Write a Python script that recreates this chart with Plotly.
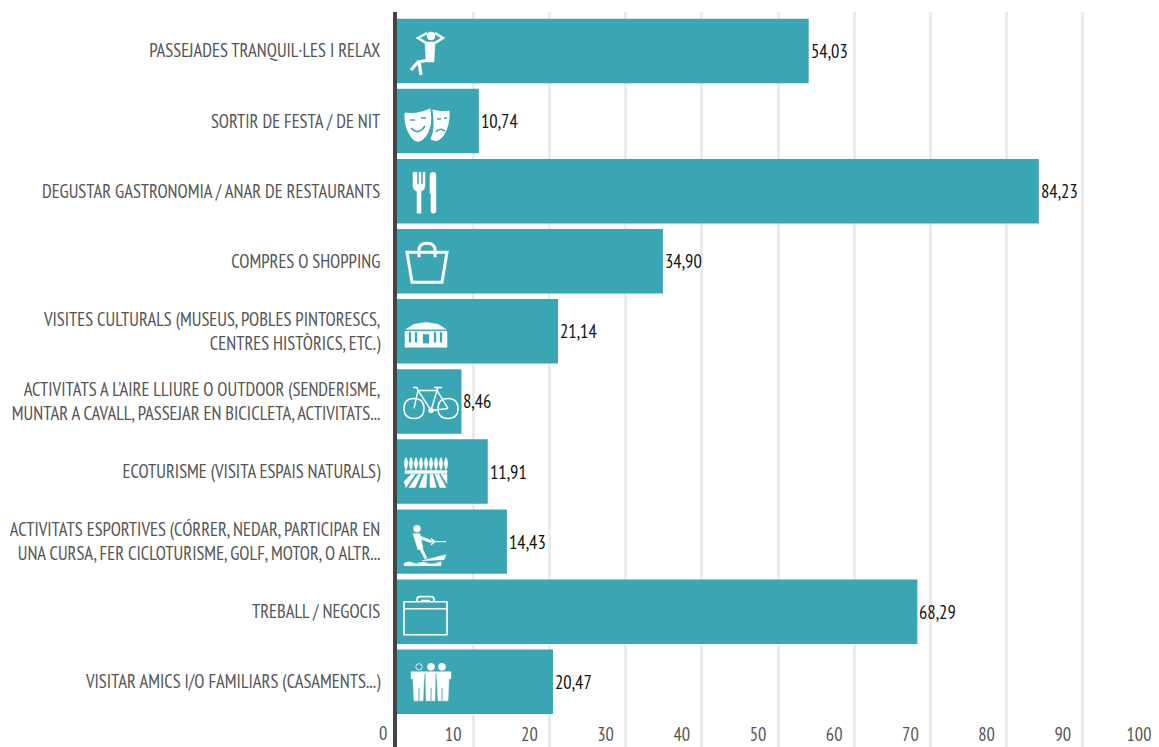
import re
import plotly.graph_objects as go

categories = [
    "PASSEJADES TRANQUIL·LES I RELAX",
    "SORTIR DE FESTA / DE NIT",
    "DEGUSTAR GASTRONOMIA / ANAR DE RESTAURANTS",
    "COMPRES O SHOPPING",
    "VISITES CULTURALS (MUSEUS, POBLES PINTORESCS,<br>CENTRES HISTÒRICS, ETC.)",
    "ACTIVITATS A L'AIRE LLIURE O OUTDOOR (SENDERISME,<br>MUNTAR A CAVALL, PASSEJAR EN BICICLETA, ACTIVITATS...",
    "ECOTURISME (VISITA ESPAIS NATURALS)",
    "ACTIVITATS ESPORTIVES (CÓRRER, NEDAR, PARTICIPAR EN<br>UNA CURSA, FER CICLOTURISME, GOLF, MOTOR, O ALTR...",
    "TREBALL / NEGOCIS",
    "VISITAR AMICS I/O FAMILIARS (CASAMENTS...)",
]
values = [54.03, 10.74, 84.23, 34.90, 21.14, 8.46, 11.91, 14.43, 68.29, 20.47]
x_ticks = [0, 10, 20, 30, 40, 50, 60, 70, 80, 90, 100]

BAR = "#3aa6b4"
FONT = "Liberation Sans Narrow, PT Sans Narrow, Roboto Condensed, sans-serif"
FS = 18.5

fig = go.Figure(go.Bar(
    y=categories, x=values, orientation="h", marker=dict(color=BAR, line=dict(width=0)),
    textposition="none",
))


def circle(cx, cy, r):
    return (f"M {cx-r} {cy} Q {cx-r} {cy-r} {cx} {cy-r} Q {cx+r} {cy-r} {cx+r} {cy} "
            f"Q {cx+r} {cy+r} {cx} {cy+r} Q {cx-r} {cy+r} {cx-r} {cy} Z")


def to_plotly(path, cx):
    """SVG-style path (y down, px from icon centre) to plotly pixel path (y up), shifted by cx."""
    out, i = [], 0
    for t in re.findall(r"[MLZQ]|-?\d+\.?\d*", path):
        if t in "MLZQ":
            out.append(t)
            i = 0
        else:
            out.append(str(float(t) + cx) if i % 2 == 0 else str(-float(t)))
            i += 1
    return " ".join(out)


TREES = " ".join(
    f"M {x-1.8} -8 Q {x} -20 {x+1.8} -8 Q {x} 4 {x-1.8} -8 Z" for x in range(-20, 21, 5)
)

# per-category icon: x centre in px from the axis, list of (path, filled, stroke[, colour])
icons = {
    0: (29, [
        (circle(5, -15, 4), True, 0.5),
        ("M 1 -18 L -8 -13 L 0 -8 M 9 -18 L 17 -13 L 9 -8", False, 2.5),
        ("M -1 -9 L 9 -9 L 8 11 L 0 11 Z", True, 0.5),
        ("M 4 9 L -8 11 L -15 19 M -7 11 L -5 24", False, 3.2),
    ]),
    1: (30, [
        ("M -22 -8 Q -10 -6 3 -12 Q 6 6 -2 16 Q -9 24 -15 17 Q -23 6 -22 -8 Z", True, 1),
        ("M 6 -11 Q 15 -8 22 -10 Q 23 4 16 15 Q 10 22 4 18 Q 9 8 6 -11 Z", True, 1),
        ("M -17 -1 L -12 -1 M -6 -3 L -1 -3 M -16 7 Q -9 15 -2 5 M 10 -2 L 14 -2 M 17 -3 L 20 -3 M 9 11 Q 13 6 18 10",
         False, 1.6, BAR),
    ]),
    2: (33, [
        ("M -17 -19 L -17 -6 Q -17 -1 -13 0 L -13 22 L -9 22 L -9 0 Q -5 -1 -5 -6 L -5 -19 L -7 -19 L -7 -7 L -9 -7 "
         "L -9 -19 L -11 -19 L -11 -7 L -13 -7 L -13 -19 L -15 -19 L -15 -7 L -15 -19 Z", True, 0.5),
        ("M 0 -16 Q 0 -19 3 -19 Q 6 -19 6 -16 L 6 20 Q 6 22 3 22 Q 1 22 1 20 L 1 2 L 0 2 Z", True, 0.5),
    ]),
    3: (30, [
        ("M -20 -9 L 20 -9 L 15 21 L -15 21 Z", False, 3),
        ("M -8 -4 L -8 -11 Q -8 -18 0 -18 Q 8 -18 8 -11 L 8 -4", False, 3),
    ]),
    4: (29, [
        ("M -20 -2 L -12 -7 L 0 -9 L 12 -7 L 20 -2 Z", True, 0.5),
        ("M -21 0 L 21 0 L 21 16 L -21 16 Z", True, 0.5),
        ("M -17 1 L -15 1 L -15 11 L -17 11 Z M -11 1 L -9 1 L -9 11 L -11 11 Z M 8 1 L 10 1 L 10 11 L 8 11 Z "
         "M 14 1 L 16 1 L 16 11 L 14 11 Z M -3 3 L 3 3 L 3 12 L -3 12 Z", True, 0.3, BAR),
    ]),
    5: (34, [
        (circle(-17, 7, 10), False, 1.4),
        (circle(17, 7, 10), False, 1.4),
        ("M -17 7 L -13 -11 L 6 -11 L 17 7 M -13 -11 L 0 9 L 6 -11 M 0 9 L 17 7 M -13 -11 L -14 -14 L -18 -14 "
         "M 6 -11 L 7 -14 M 3 -14 L 11 -14", False, 1.4),
        (circle(0, 9, 2.5), True, 0.5),
    ]),
    6: (29, [
        (TREES, True, 0.5),
        ("M -21 -1 L 21 -1 L 21 2 L -21 2 Z", True, 0.5),
        ("M -15 3 L -11 3 L -20 16 L -22 10 Z M -8 3 L -5 3 L -11 16 L -17 16 Z M -2 3 L 1 3 L 0 16 L -7 16 Z "
         "M 4 3 L 7 3 L 10 16 L 4 16 Z M 9 3 L 13 3 L 20 16 L 14 16 Z M 15 3 L 21 3 L 21 12 Z", True, 0.5),
    ]),
    7: (29, [
        (circle(-9, -13, 3.5), True, 0.5),
        ("M -13 -8 L -6 -8 L -3 7 L -8 8 Z", True, 0.5),
        ("M -8 -5 L 5 0 M -5 7 L 0 17", False, 3),
        ("M 5 0 L 20 0 M 5 -3 L 9 0 L 5 3", False, 1.3),
        ("M -4 19 L 20 13 L 18 18 Z", True, 0.5),
        ("M -22 22 Q -18 19 -14 21 Q -10 23 -6 21 Q -2 20 2 22 Q 8 23 15 20 L 15 24 L -22 24 Z", True, 0.5),
    ]),
    8: (29, [
        ("M -22 -10 L 21 -10 L 21 23 L -22 23 Z M -22 -3 L 21 -3", False, 1.6),
        ("M -9 -10 L -9 -12 Q -9 -15 -6 -15 L 5 -15 Q 8 -15 8 -12 L 8 -10 M -5 -11 L 4 -11", False, 1.8),
    ]),
    9: (33, [
        (circle(-11, -15, 3.2), False, 0.8),
        (circle(1, -15, 3.6), True, 0.5),
        (circle(12, -15, 3.6), True, 0.5),
        ("M -19 -10 L 21 -10 L 21 -3 L 19 -3 L 18 19 L 8 19 L 7 -3 L 6 -3 L 5 19 L -4 19 L -5 -3 L -6 -3 L -7 19 "
         "L -16 19 L -17 -3 L -19 -3 Z", True, 0.5),
        ("M -5 -8 L -5 19 M 6 -8 L 6 19 M -11 6 L -11 19 M 1 6 L 1 19 M 12 6 L 12 19", False, 0.9, BAR),
    ]),
}

shapes = []
for idx, (cx, parts) in icons.items():
    for part in parts:
        path, filled, stroke = part[:3]
        color = part[3] if len(part) > 3 else "white"
        shapes.append(dict(
            type="path", xref="x", yref="y", xsizemode="pixel", ysizemode="pixel",
            xanchor=0, yanchor=categories[idx], path=to_plotly(path, cx),
            fillcolor=color if filled else "rgba(0,0,0,0)",
            line=dict(color=color, width=stroke), layer="above",
        ))

# value labels beside each bar
annotations = [
    dict(x=v, y=c, xref="x", yref="y", xanchor="left", yanchor="middle", showarrow=False, xshift=0, yshift=0,
         text=f"{v:.2f}".replace(".", ","), font=dict(family=FONT, size=FS, color="#111"))
    for c, v in zip(categories, values)
]
# the first tick label lies left of the axis, where plotly hides inside tick labels
annotations.append(dict(
    x=x_ticks[0], y=0, xref="x", yref="paper", xanchor="right", yanchor="bottom", showarrow=False,
    xshift=-8, yshift=0, text=str(x_ticks[0]), font=dict(family=FONT, size=FS, color="#555"),
))

# the page body adds an 8 px margin on the left and top
fig.update_layout(
    width=1151, height=739, autosize=False,
    margin=dict(l=389, r=0, t=4, b=0, pad=0),
    paper_bgcolor="white", plot_bgcolor="white",
    separators=",.", showlegend=False, bargap=0.08, shapes=shapes, annotations=annotations,
    xaxis=dict(
        range=[0, 100], tickvals=x_ticks, ticktext=[str(v) for v in x_ticks],
        showgrid=True, gridcolor="#ececec", gridwidth=3, zeroline=False, showline=False,
        ticks="", ticklabelposition="inside", ticklabelshift=-20, ticklabelstandoff=-1, automargin=False,
        tickfont=dict(family=FONT, size=FS, color="#555"),
    ),
    yaxis=dict(
        type="category", categoryorder="array", categoryarray=categories,
        range=[9.93, -0.556], showgrid=False, zeroline=False, automargin=False,
        showline=True, linecolor="#444", linewidth=4,
        ticks="outside", ticklen=9, tickcolor="rgba(0,0,0,0)",
        tickfont=dict(family=FONT, size=FS, color="#555"),
    ),
)
fig.write_html("out.html")
